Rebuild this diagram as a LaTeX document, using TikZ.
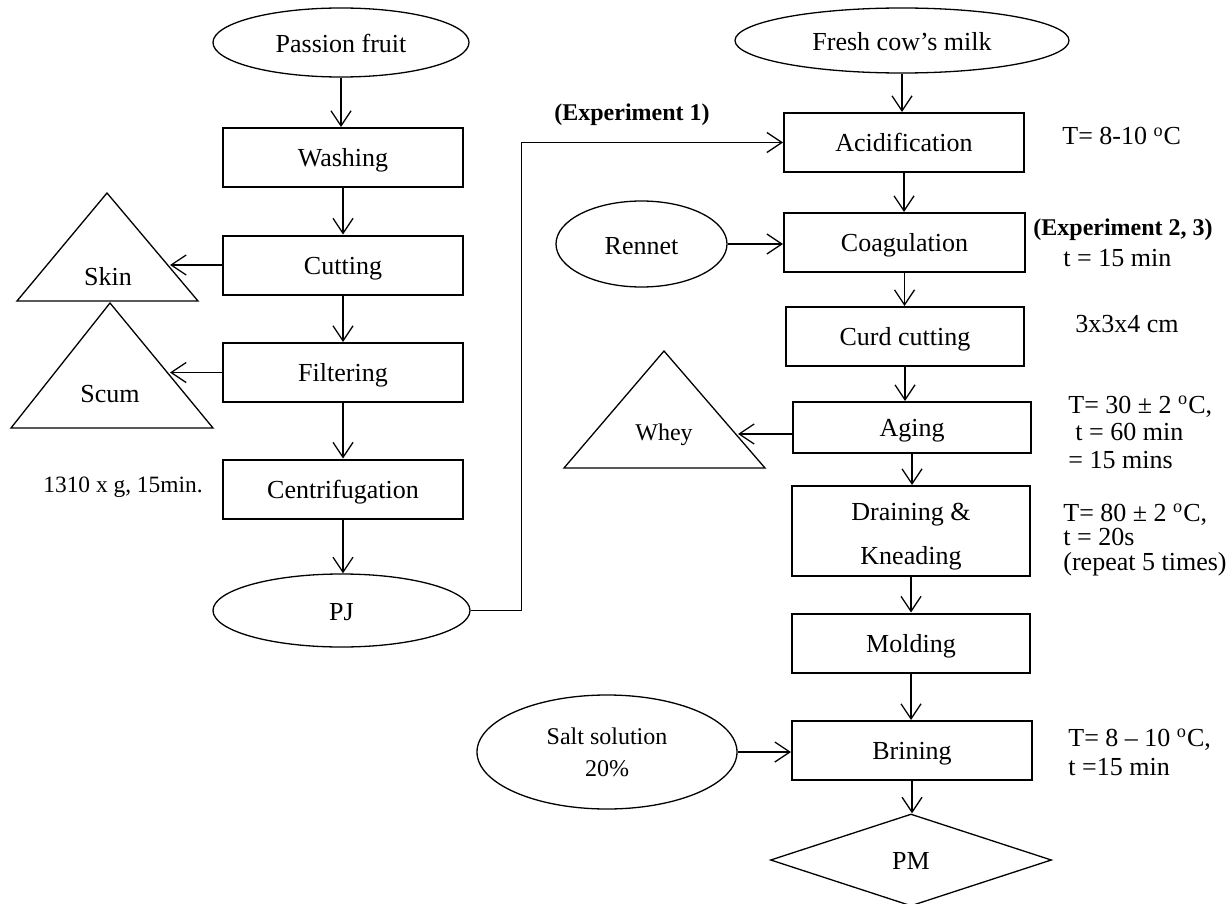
\documentclass[tikz,border=0pt]{standalone}
\usepackage{fontspec}
\setmainfont{Liberation Serif}
\usetikzlibrary{arrows.meta,shapes.geometric}
\begin{document}
\begin{tikzpicture}[x=0.5pt,y=-0.5pt,
  box/.style={draw,line width=1pt,inner sep=0pt,minimum width=120pt,minimum height=29.5pt,
    font=\fontsize{13}{15}\selectfont,text height=1em,text depth=0.07em},
  oval/.style={draw,ellipse,line width=0.65pt,inner sep=0pt,font=\fontsize{13}{15}\selectfont,
    text height=1.05em,text depth=0.05em},
  arr/.style={-{Straight Barb[length=7.5pt,width=10pt]},line width=0.65pt},
  tri/.style={draw,line width=0.65pt,line join=miter},
  tritext/.style={inner sep=0pt,font=\fontsize{13}{15}\selectfont},
  lbl/.style={font=\fontsize{13}{15}\selectfont,inner sep=0pt,anchor=base west},
  blbl/.style={font=\fontsize{12}{14}\selectfont\bfseries,inner sep=0pt}
]
\useasboundingbox (0,0) rectangle (1226,904);

% ---------- left column ----------
\node[oval,minimum width=128pt,minimum height=34.5pt] (pf) at (341,42.5) {Passion fruit};
\node[box] (wash) at (343,157.5) {Washing};
\node[box] (cut)  at (343,265)   {Cutting};
\node[box] (filt) at (343,372.5) {Filtering};
\node[box] (cent) at (343,489)   {Centrifugation};
\node[oval,minimum width=128.5pt,minimum height=36.5pt] (pj) at (341.5,610.5) {PJ};

\draw[arr] (pf.south)   -- (pf.south |- wash.north);
\draw[arr] (wash.south) -- (cut.north);
\draw[arr] (cut.south)  -- (filt.north);
\draw[arr] (filt.south) -- (cent.north);
\draw[arr] (cent.south) -- (cent.south |- pj.north);

% Skin triangle
\draw[tri] (107,193) -- (198,301) -- (17,301) -- cycle;
\node[tritext] (skin) at (108,277) {Skin};
\coordinate (skinend) at (170,265);
\draw[arr] (cut.west) -- (skinend);

% Scum triangle
\draw[tri] (110,303) -- (213,428) -- (11,428) -- cycle;
\node[tritext] (scum) at (110,394) {Scum};
\coordinate (scumend) at (170,372.5);
\draw[arr] (filt.west) -- (scumend);

\node[inner sep=0pt,anchor=base,font=\fontsize{11.7}{14}\selectfont] (centlbl) at (123,492) {1310 x g, 15min.};

% ---------- right column ----------
\node[oval,minimum width=167pt,minimum height=32.5pt] (milk) at (902,40.5) {Fresh cow’s milk};
\node[box] (acid) at (904,142.5) {Acidification};
\node[box,minimum width=120.5pt] (coag) at (904.5,242.5) {Coagulation};
\node[box,minimum width=119pt] (curd) at (905,336.5) {Curd cutting};
\node[box,minimum width=119pt,minimum height=25.5pt] (aging) at (912,427.5) {Aging};
\node[box,minimum width=119pt,minimum height=45pt] (drain) at (911,531) {};
\node[inner sep=0pt,align=center,font=\fontsize{13}{22}\selectfont] (draintext) at (911,537) {Draining \&\\Kneading};
\node[box,minimum width=119pt] (mold) at (911,643) {Molding};
\node[box,minimum width=120pt] (brin) at (912,750.5) {Brining};
\node[draw,diamond,aspect=3.05,line width=0.65pt,inner sep=0pt,minimum width=140.5pt,minimum height=46pt,font=\fontsize{13}{15}\selectfont,text height=1em,text depth=0.07em] (pm) at (911,860) {PM};

\node[oval,minimum width=85.5pt,minimum height=43pt] (rennet) at (641.5,244) {Rennet};
\node[oval,minimum width=130pt,minimum height=57pt,align=center,font=\fontsize{12}{16}\selectfont,text height=,text depth=] (salt) at (607,752) {Salt solution\\20\%};

\draw[arr] (milk.south)  -- (milk.south |- acid.north);
\draw[arr] (acid.south)  -- (acid.south |- coag.north);
\draw[arr] (coag.south)  -- (coag.south |- curd.north);
\draw[arr] (curd.south)  -- (curd.south |- aging.north);
\draw[arr] (aging.south) -- (aging.south |- drain.north);
\draw[arr] (drain.south) -- (drain.south |- mold.north);
\draw[arr] (mold.south)  -- (mold.south |- brin.north);
\draw[arr] (brin.south)  -- (brin.south |- pm.north);

\draw[arr] (rennet.east) -- (rennet.east -| coag.west);
\draw[arr] (salt.east) -- (salt.east -| brin.west);
\draw[arr] (pj.east) -- ++(51,0) |- (acid.west);

% Whey triangle
\draw[tri] (664,351) -- (765,468) -- (564,468) -- cycle;
\node[tritext,font=\fontsize{12}{14}\selectfont] (whey) at (664,435) {Whey};
\coordinate (wheyend) at (738,434);
\draw[arr] (aging.west |- wheyend) -- (wheyend);

% ---------- labels ----------
\node[blbl,anchor=base] (exp1) at (632,120) {(Experiment 1)};
\node[blbl,anchor=base west] (exp23) at (1033,235) {(Experiment 2, 3)};
\node[lbl] (l1) at (1062,145) {T= 8-10 \textsuperscript{o}C};
\node[lbl] (l2) at (1063,266) {t = 15 min};
\node[lbl] (l3) at (1075,332) {3x3x4 cm};
\node[lbl] (l4) at (1068,413) {T= 30 ± 2 \textsuperscript{o}C,};
\node[lbl] (l5) at (1075,440) {t = 60 min};
\node[lbl] (l6) at (1068,468) {= 15 mins};
\node[lbl] (l7) at (1063,521) {T= 80 ± 2 \textsuperscript{o}C,};
\node[lbl] (l8) at (1063,545) {t = 20s};
\node[lbl] (l9) at (1063,570) {(repeat 5 times)};
\node[lbl] (l10) at (1068,746) {T= 8 – 10 \textsuperscript{o}C,};
\node[lbl] (l11) at (1068,775) {t =15 min};
\end{tikzpicture}
\end{document}
